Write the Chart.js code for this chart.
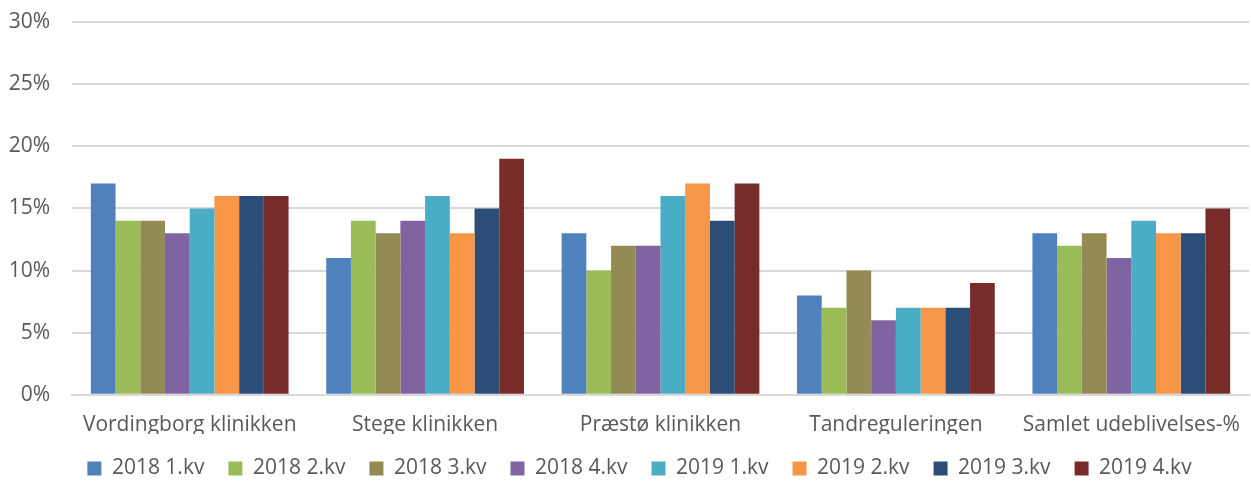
<!DOCTYPE html>
<html>
<head>
<meta charset="utf-8">
<script src="https://cdn.jsdelivr.net/npm/chart.js@4"></script>
<style>
  html, body { margin: 0; padding: 0; background: #fff; }
  #wrap { width: 1251px; height: 486px; }
</style>
</head>
<body>
<div id="wrap"><canvas id="myChart"></canvas></div>
<script>
// chart data
var categories = ["Vordingborg klinikken", "Stege klinikken", "Præstø klinikken", "Tandreguleringen", "Samlet udeblivelses-%"];
var seriesNames = ["2018 1.kv", "2018 2.kv", "2018 3.kv", "2018 4.kv", "2019 1.kv", "2019 2.kv", "2019 3.kv", "2019 4.kv"];
var q2018_1 = [17, 11, 13, 8, 13];
var q2018_2 = [14, 14, 10, 7, 12];
var q2018_3 = [14, 13, 12, 10, 13];
var q2018_4 = [13, 14, 12, 6, 11];
var q2019_1 = [15, 16, 16, 7, 14];
var q2019_2 = [16, 13, 17, 7, 13];
var q2019_3 = [16, 15, 14, 7, 13];
var q2019_4 = [16, 19, 17, 9, 15];
var yTicks = [0, 5, 10, 15, 20, 25, 30];

var colors = ["#4F81BD", "#9BBB59", "#948A54", "#8064A2", "#4BACC6", "#F79646", "#2C4D75", "#772C2A"];
var allSeries = [q2018_1, q2018_2, q2018_3, q2018_4, q2019_1, q2019_2, q2019_3, q2019_4];

var datasets = allSeries.map(function (d, i) {
  return {
    label: seriesNames[i],
    data: d,
    backgroundColor: colors[i],
    borderWidth: 0,
    categoryPercentage: 0.84,
    barPercentage: 1.0
  };
});

Chart.defaults.font.family = "'Open Sans', 'Liberation Sans', sans-serif";
Chart.defaults.color = "#595959";

var leftPad = 8;

// legend is centred on the whole picture in the original, nudge it right
var legendShift = {
  id: 'legendShift',
  afterLayout: function (chart) {
    chart.legend.left += 11;
    chart.legend.right += 11;
  }
};

var ctx = document.getElementById("myChart");
var myChart = new Chart(ctx, {
  type: 'bar',
  data: { labels: categories, datasets: datasets },
  plugins: [legendShift],
  options: {
    responsive: true,
    maintainAspectRatio: false,
    animation: false,
    layout: { padding: { left: leftPad, right: 2, top: 0, bottom: -3 } },
    plugins: {
      tooltip: { enabled: false },
      legend: {
        position: 'bottom',
        labels: {
          boxWidth: 14,
          boxHeight: 14,
          padding: 24,
          font: { size: 21 },
          color: "#595959"
        }
      }
    },
    scales: {
      x: {
        grid: { display: false },
        border: { display: true, color: "#D9D9D9", width: 2 },
        ticks: { font: { size: 21 }, color: "#595959", padding: 10, maxRotation: 0 },
        afterFit: function (scale) { scale.height -= 14; }
      },
      y: {
        min: 0,
        max: 30,
        afterBuildTicks: function (axis) {
          axis.ticks = yTicks.map(function (v) { return { value: v }; });
        },
        afterFit: function (scale) {
          scale.width = 72 - leftPad;
          scale.paddingTop = 22;
        },
        grid: { color: "#D9D9D9", lineWidth: 2, drawTicks: false },
        border: { display: false },
        ticks: {
          font: { size: 21 },
          color: "#595959",
          padding: 22,
          callback: function (v) { return v + "%"; }
        }
      }
    }
  }
});
</script>
</body>
</html>
